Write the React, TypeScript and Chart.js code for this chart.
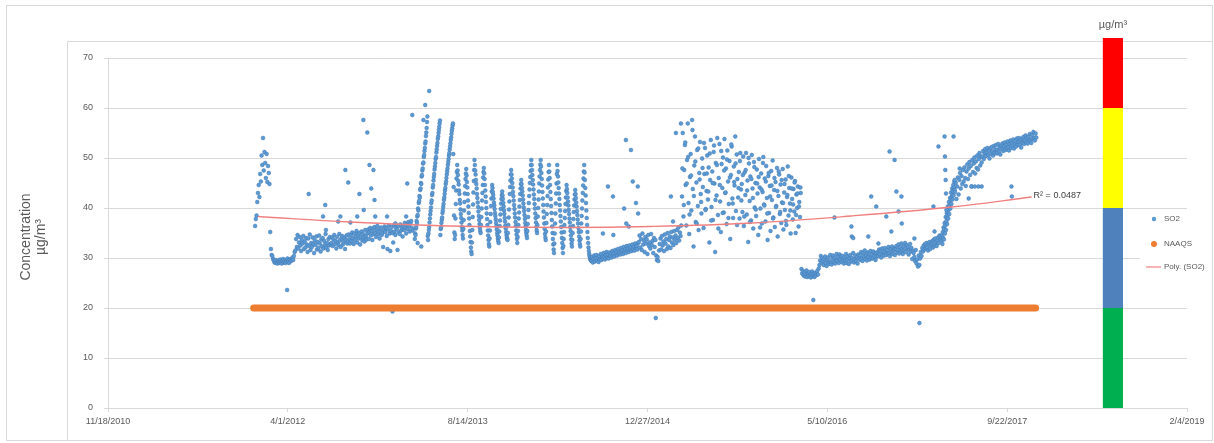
import React, { useEffect, useRef } from "react";
import { Chart, registerables } from "chart.js";

Chart.register(...registerables);

// ---------- axis data ----------
const xTickDates = ["2010-11-18", "2012-04-01", "2013-08-14", "2014-12-27", "2016-05-10", "2017-09-22", "2019-02-04"];
const xTickLabels = ["11/18/2010", "4/1/2012", "8/14/2013", "12/27/2014", "5/10/2016", "9/22/2017", "2/4/2019"];
const yMin = 0;
const yMax = 70;
const yStep = 10;

// ---------- SO2 series (x = days since 1 Jan 2012) ----------
const so2Jan2012 = [36.4, 37.8, 38.5, 41.2, 43.0, 44.6, 42.2, 46.8, 45.3, 50.5, 48.6, 54.0, 47.5, 51.2, 49.0, 46.0, 50.8, 45.2, 48.4, 47.0, 44.8, 35.2, 31.8, 30.6];
const so2Trough2012 = [30.4, 29.8, 29.5, 29.1, 29.6, 29.0, 29.3, 28.9, 29.5, 29.2, 29.0, 29.7, 29.3, 28.9, 29.4, 29.8, 29.1, 29.5, 29.0, 29.6, 29.2, 29.9, 29.4, 29.0, 29.7, 29.3, 29.8, 29.5, 30.1, 29.6, 30.4, 31.2];
const so2Spring2012 = [31.5, 33.8, 32.2, 34.6, 31.9, 33.1, 34.2, 32.5, 31.4, 33.6, 32.9, 34.4, 31.8, 33.3, 32.1, 34.0, 32.7, 31.2, 33.9, 32.4, 34.7, 31.6, 33.0, 32.2, 34.1, 32.8, 31.0, 33.5, 32.6, 34.3, 31.7, 33.2, 32.0, 34.5, 32.9, 31.3, 33.7, 32.3, 34.0, 31.9, 33.4, 32.6, 34.8, 32.1, 33.0, 31.6, 33.8, 32.5, 34.2, 32.8];
const so2Band2012 = [33.0, 34.1, 32.4, 33.7, 34.6, 32.8, 33.4, 31.9, 34.2, 33.1, 32.6, 34.8, 33.5, 32.2, 33.9, 34.4, 32.7, 33.2, 34.0, 31.8, 33.6, 34.5, 32.9, 33.3, 34.7,
  33.8, 32.9, 34.6, 33.4, 35.1, 34.0, 32.8, 34.9, 33.6, 34.3, 35.4, 33.1, 34.7, 33.9, 35.0, 32.7, 34.2, 35.3, 33.5, 34.8, 34.1, 33.3, 35.6, 34.4, 33.7];
const so2Band2013 = [34.9, 35.7, 33.8, 35.2, 36.0, 34.5, 35.4, 33.6, 35.9, 34.8, 36.2, 35.1, 34.2, 35.6, 36.4, 34.7, 35.3, 33.9, 35.8, 36.1, 34.6, 35.0, 32.2, 35.5, 36.3,
  35.2, 36.0, 34.4, 31.8, 35.7, 36.5, 34.9, 31.4, 35.4, 36.2, 35.0, 33.1, 36.6, 35.3, 34.6, 36.1, 35.8, 31.6, 36.4, 35.1, 34.8, 36.7, 35.5, 36.0, 34.3,
  36.3, 35.6, 37.0, 36.1, 34.9, 36.8, 35.8, 37.2, 36.4, 35.3, 36.9, 37.4, 36.0, 35.5];
const so2Ramps2013 = [33.8, 34.9, 34.6, 35.9, 36.2, 37.4, 37.0, 38.3, 38.6, 39.9, 39.5, 41.0, 41.4, 42.4, 42.1, 43.6, 43.9, 45.0, 44.8, 46.3, 46.6, 47.5, 47.9, 48.9, 49.1, 50.2, 50.6, 51.4, 52.0, 52.9, 53.3, 54.4, 55.1, 56.0, 57.2, 58.3,
  34.4,
  33.6, 34.9, 35.6, 36.2, 37.1, 37.9, 38.7, 39.4, 40.1, 41.0, 41.5, 42.6, 43.0, 44.1, 44.6, 45.5, 46.2, 46.8, 47.7, 48.3, 49.0, 49.8, 50.2, 51.1, 51.7, 52.4, 53.0, 53.8, 54.3, 55.0, 55.6, 56.2, 56.9, 57.5,
  34.6, 35.8, 36.1, 37.0, 37.6, 38.1, 39.0, 39.5, 40.2, 40.8, 41.6, 42.1, 42.8, 43.5, 44.0, 44.8, 45.3, 46.0, 46.7, 47.3, 47.9, 48.6, 49.2, 49.8, 50.5, 51.0, 51.7, 52.3, 52.9, 53.6, 54.1, 54.8, 55.4, 55.9, 56.5, 56.9];
const so2Teeth2013 = [50.8, 44.2, 38.5, 35.1, 33.8, 34.6, 37.9, 40.8, 43.5, 45.9, 47.2, 48.6,
  47.5, 46.6, 45.4, 44.7, 43.5, 42.8, 41.6, 40.9, 39.7, 38.8, 38.0, 37.1, 36.2, 35.5, 34.6, 33.9, 35.8, 37.6, 39.5, 41.2, 42.9, 44.4, 45.8, 46.9, 47.8,
  46.5, 45.2, 44.1, 42.8, 41.5, 40.3, 39.0, 37.9, 36.6, 35.4, 34.3, 33.2, 32.1, 31.3, 30.8, 33.1, 35.6, 38.2, 40.7, 43.1, 45.4, 47.6, 49.6,
  48.6, 47.5, 46.7, 45.6, 44.8, 43.9, 42.8, 42.0, 41.1, 40.2, 39.3, 38.4, 37.6, 36.8, 36.0, 35.4, 35.0, 36.6, 38.2, 39.9, 41.5, 43.0, 44.6, 46.1, 47.2, 48.0,
  46.9, 45.8, 44.6, 43.5, 42.3, 41.2, 40.0, 38.9, 37.8, 36.6, 35.5, 34.5, 33.6, 32.8, 32.3, 33.9, 35.5, 37.2, 38.8, 40.4, 41.9, 43.3, 44.6,
  44.0, 43.2, 42.6, 41.9, 41.1, 40.5, 39.8, 39.0, 38.4, 37.7, 37.0, 36.4, 35.7, 35.0, 34.5, 33.9, 33.4, 33.0, 34.1, 35.3, 36.4, 37.5, 38.7, 39.8, 40.9, 41.8, 42.6, 43.3,
  42.5, 41.8, 41.0, 40.3, 39.5, 38.8, 38.0, 37.3, 36.5, 35.9, 35.2, 34.6, 34.1, 33.8, 33.6, 35.0, 36.6, 38.1, 39.7, 41.3, 42.8, 44.2, 45.5, 46.7, 47.6];
const so2Teeth2014 = [46.7, 45.9, 45.0, 44.1, 43.2, 42.4, 41.5, 40.6, 39.8, 38.9, 38.1, 37.2, 36.4, 35.5, 34.7, 33.8, 33.0, 34.2, 35.4, 36.6, 37.9, 39.1, 40.3, 41.6, 42.8, 43.9, 44.8, 45.6,
  44.8, 44.0, 43.3, 42.5, 41.7, 40.9, 40.1, 39.4, 38.6, 37.8, 37.0, 36.3, 35.6, 35.0, 34.5, 34.0, 35.4, 36.8, 38.2, 39.6, 41.0, 42.4, 43.7, 45.0, 46.2, 47.4, 48.6, 49.6,
  48.6, 47.6, 46.6, 45.6, 44.7, 43.7, 42.7, 41.8, 40.8, 39.9, 38.9, 38.0, 37.1, 36.2, 35.5, 35.0, 36.6, 38.3, 40.0, 41.7, 43.3, 44.9, 46.3, 47.6, 48.7, 49.6,
  48.3, 47.0, 45.8, 44.5, 43.2, 41.9, 40.6, 39.3, 38.1, 36.9, 35.8, 34.8, 34.1, 33.6, 35.3, 37.0, 38.8, 40.6, 42.4, 44.1, 45.7, 47.2, 48.6,
  47.3, 46.0, 44.6, 43.2, 41.8, 40.4, 39.0, 37.6, 36.3, 35.0, 33.8, 32.7, 31.7, 31.0, 32.9, 34.9, 36.9, 38.9, 40.9, 42.9, 44.9, 46.8, 48.6,
  47.4, 46.3, 45.1, 44.0, 42.9, 41.8, 40.6, 39.5, 38.4, 37.3, 36.2, 35.1, 34.0, 33.0, 32.0, 31.0, 32.4, 33.8, 35.2, 36.6, 38.0, 39.4, 40.8, 42.1, 43.4, 44.6,
  43.8, 43.0, 42.1, 41.3, 40.5, 39.6, 38.8, 37.9, 37.1, 36.2, 35.4, 34.5, 33.7, 32.9, 32.3, 33.6, 35.0, 36.4, 37.8, 39.2, 40.5, 41.7, 42.7, 43.6,
  42.8, 42.0, 41.1, 40.3, 39.4, 38.6, 37.7, 36.9, 36.0, 35.2, 34.3, 33.5, 32.8, 32.3, 33.8, 35.3, 36.9, 38.4, 39.9, 41.5, 43.0, 44.5, 45.9, 47.3, 48.6,
  47.1, 45.6, 44.0, 42.5, 41.0, 39.5, 38.0, 36.6, 35.2, 34.0, 33.0, 32.1, 31.4, 30.8, 30.4, 30.1, 29.8, 29.6, 29.5];
const so2Summer2014 = [29.4, 30.2, 29.1, 29.8, 30.5, 29.3, 29.9, 30.6, 29.5, 30.1, 29.2, 30.4, 29.7, 30.8, 29.6, 30.3, 29.9, 31.0, 30.2, 29.7, 30.6, 31.2, 30.0, 30.7, 29.9, 31.1, 30.4, 30.9, 30.1, 31.4, 30.6, 31.0, 30.3,
  31.6, 30.8, 31.3, 30.5, 31.8, 30.9, 31.2, 30.7, 32.0, 31.1, 31.5, 30.8, 32.2, 31.3, 31.7, 31.0, 32.4, 31.5, 31.9, 31.2, 32.5, 31.6, 32.1, 31.4, 32.7, 31.8, 32.3, 31.5, 32.9, 32.0, 32.4, 31.7, 33.0];
const so2Winter2015 = [33.2, 34.5, 32.1, 33.8, 31.6, 34.9, 32.7, 33.5, 31.2, 34.2, 32.9, 33.7, 30.8, 34.6, 32.4, 33.1, 31.9, 34.8, 32.6, 33.4, 31.0, 34.0, 32.2, 33.6, 30.5, 29.6, 30.2, 29.4, 31.5, 32.8,
  33.9, 31.7, 34.4, 32.5, 33.3, 31.4, 34.7, 32.9, 33.8, 31.8, 35.0, 32.3, 33.6, 34.3, 32.0, 35.2, 33.1, 34.1, 32.6, 35.4, 33.7, 34.5, 33.0, 35.6, 34.0, 36.1, 33.5, 35.1, 34.4, 36.5];
const so2Cloud2015 = [42.3, 55.0, 38.3, 47.6, 52.6, 44.6, 36.5, 49.6, 56.9, 41.0,
  34.8, 46.2, 50.8, 39.5, 57.6, 43.8, 32.3, 48.5, 54.3, 37.2,
  45.1, 51.6, 40.4, 35.6, 47.0, 53.2, 42.8, 38.9, 49.9, 44.2,
  36.0, 46.8, 52.0, 39.8, 43.4, 50.5, 41.7, 48.1, 33.1, 45.6,
  53.6, 40.2, 47.3, 37.6, 51.2, 44.9, 31.2, 49.0, 42.5, 54.0,
  38.6, 46.0, 52.8, 41.3, 35.2, 48.8, 44.0, 50.1, 39.1, 53.8,
  43.0, 47.9, 36.8, 51.5, 45.3, 40.8, 49.4, 33.8, 46.6, 52.3,
  41.9, 38.0, 48.3, 44.5, 54.3, 39.4, 50.7, 45.8, 42.1, 47.2,
  37.9, 51.0, 43.7];
const so2Cloud2016 = [44.8, 39.2, 50.3, 36.4, 47.1, 42.6, 51.0, 38.7, 45.5, 33.2,
  48.9, 41.4, 46.3, 37.5, 50.6, 43.9, 35.9, 49.2, 40.1, 45.0,
  38.4, 47.7, 42.9, 34.6, 49.8, 44.1, 39.9, 46.9, 36.9, 43.2,
  50.2, 40.7, 45.9, 37.3, 48.4, 42.0, 33.6, 46.4, 39.0, 44.4,
  35.4, 47.4, 41.6, 49.5, 38.1, 43.6, 36.2, 45.2, 40.4, 48.0,
  34.3, 42.4, 46.7, 38.8, 44.7, 37.0, 41.1, 47.8, 35.7, 43.1,
  39.6, 45.7, 36.6, 42.2, 48.3, 38.5, 44.0, 40.9, 34.9, 46.1,
  41.8, 37.7, 43.8, 39.3, 45.4, 35.0, 42.7, 40.0, 44.3, 36.3,
  41.2, 38.2, 43.0];
const so2CloudExtra = [47.9, 40.6, 53.1, 44.9, 50.2, 38.7, 46.5, 55.6, 42.4, 49.3,
  36.9, 51.9, 45.7, 41.2, 48.0, 53.0, 39.6, 46.9, 43.3, 50.9,
  37.5, 45.0, 52.5, 41.6, 48.6, 35.9, 44.6, 51.4, 39.0, 47.5,
  43.1, 49.7, 38.0, 46.1, 52.7, 40.9, 45.2, 48.9, 36.6, 44.0,
  49.4, 41.5, 46.6, 38.3, 47.6, 43.5, 50.0, 37.2, 45.8, 42.0,
  48.2, 39.7, 44.9, 46.2, 36.1, 43.7, 49.0, 40.5, 45.3, 38.9,
  47.0, 42.3, 44.5, 37.9, 46.0, 40.2, 43.4, 47.3, 39.2, 45.6,
  41.0, 44.8, 37.4, 42.6, 46.4, 39.5, 43.9, 40.7, 45.1, 38.6,
  42.9, 40.3, 44.1];
const so2Trough2016 = [27.8, 26.9, 27.4, 26.5, 27.1, 26.3, 26.8, 27.5, 26.2, 26.9, 26.4, 27.2, 26.6, 26.1, 26.8, 27.3, 26.4, 26.9, 26.2, 27.0, 26.5, 26.9, 27.4, 26.7, 27.9, 28.6,
  29.5, 30.4, 29.1, 30.0, 29.4, 28.6, 29.8, 30.3, 29.0, 28.4, 29.6, 30.1, 28.8, 29.3, 30.6, 29.1, 28.7, 29.9, 30.5, 29.2, 30.0, 28.9, 29.6, 30.8, 29.4, 30.2, 29.0, 30.7, 29.7, 30.3];
const so2Band2016 = [29.2, 30.4, 29.8, 28.9, 30.1, 29.5, 30.8, 29.0, 29.7, 30.3, 28.8, 29.9, 30.6, 29.3, 30.0, 29.6, 31.0, 29.1, 29.8, 30.5, 29.4, 30.2, 28.9, 30.7, 29.9,
  30.5, 29.6, 31.2, 30.0, 29.4, 30.9, 30.3, 31.5, 29.8, 30.6, 29.5, 31.1, 30.2, 30.8, 29.7, 31.4, 30.1, 30.7, 29.9, 31.3, 30.4, 31.0, 29.6, 30.9, 30.3,
  31.2, 30.4, 31.7, 30.8, 31.4, 30.1, 31.9, 30.7, 31.3, 30.5, 32.0, 31.1, 30.6, 31.6, 30.9, 32.2, 31.0, 30.4, 31.8, 31.2, 32.3, 30.8, 31.5, 31.9, 30.6];
const so2Band2017 = [31.8, 32.4, 31.1, 31.6, 32.7, 30.9, 32.1, 31.4, 32.9, 31.7, 30.8, 32.3, 31.5, 33.0, 31.2, 32.6, 31.9, 32.2, 30.7, 31.6, 32.8, 31.3, 32.0, 29.8, 31.4,
  31.0, 30.2, 29.4, 31.6, 28.9, 29.7, 28.3, 30.5, 28.6, 29.9, 31.2, 30.4, 32.0, 31.3, 32.5, 31.7, 32.8, 31.9, 33.0, 32.2, 31.5, 32.7, 33.2, 31.8, 32.6,
  32.9, 33.4, 32.1, 33.7, 32.5, 33.9, 33.1, 32.4, 33.6, 34.1, 33.0, 34.5, 33.8, 34.2];
const so2Rise2017 = [33.5, 34.6, 32.8, 35.2, 34.0, 36.1, 33.7, 35.8, 37.0, 34.9, 36.5, 38.2, 35.6, 37.4, 39.0, 36.8, 38.5, 40.3, 37.9, 39.6, 41.2, 38.8, 40.5, 42.0, 39.9, 41.6, 43.1, 40.8, 42.4, 43.9, 41.7, 43.3, 44.6, 42.5, 44.1, 45.3, 43.6];
const so2Step2017 = [43.2, 45.0, 41.8, 44.3, 46.1, 42.7, 45.6, 47.0, 43.9, 46.4, 44.8, 47.6, 45.3, 48.1, 46.0, 44.4, 47.3, 48.7, 45.8, 47.9, 49.2, 46.6, 48.4, 44.3, 49.6, 47.2, 48.9, 50.1, 46.9, 49.3, 48.0, 50.5, 47.7, 49.8, 51.0, 48.5, 50.3, 49.1];
const so2Late2017 = [50.2, 51.4, 49.8, 50.9, 51.8, 50.4, 51.1, 52.0, 50.6, 51.5,
  49.9, 51.9, 50.8, 52.2, 51.3, 50.5, 52.4, 51.0, 51.7, 52.6,
  50.9, 51.6, 52.8, 51.2, 52.1, 50.7, 52.5, 51.8, 52.9, 51.4,
  52.3, 53.1, 51.6, 52.7, 51.9, 53.3, 52.2, 51.5, 52.8, 53.5,
  52.0, 53.0, 52.5, 53.7, 51.9, 52.9, 53.4, 52.3, 53.9, 52.7,
  53.2, 54.0, 52.6, 53.5, 52.1, 53.8, 53.0, 54.2, 52.8, 53.6,
  54.5, 53.1, 53.9, 52.9, 54.3, 53.4, 54.8, 53.7, 53.0, 54.6,
  53.8, 55.2, 54.0, 53.5, 54.9, 54.1];

// [first day, day step, values]
const so2Segments: [number, number, number[]][] = [
  [0, 2, so2Jan2012], [48, 2, so2Trough2012], [112, 2, so2Spring2012], [212, 2, so2Band2012], [312, 2, so2Band2013],
  [444, 1, so2Ramps2013], [551, 1, so2Teeth2013], [713, 1, so2Teeth2014], [935, 2, so2Summer2014], [1067, 2, so2Winter2015],
  [1187, 2, so2Cloud2015], [1353, 2, so2Cloud2016], [1188, 4, so2CloudExtra], [1519, 2, so2Trough2016], [1631, 2, so2Band2016], [1781, 2, so2Band2017],
  [1909, 1, so2Rise2017], [1946, 2, so2Step2017], [2022, 2, so2Late2017],
];

const so2OutlierDays = [89, 149, 189, 195, 197, 231, 237, 251, 259, 265, 284, 290, 301, 302, 312, 318, 323, 329, 332, 334, 367, 382, 390, 420, 423, 437,
  468, 473, 484, 452, 462,
  967, 981, 995, 996, 1026, 1031, 1032, 1039, 1045, 1050, 1059, 1064, 1065, 1114, 1156, 1162, 1170, 1184,
  1552, 1611, 1658, 1659, 1663, 1705, 1713, 1727, 1733, 1755, 1764, 1769, 1778, 1783, 1789, 1797, 1798, 1833, 1847, 1886, 1889, 1900,
  1917, 1918, 1919, 1920, 1921, 1922, 1942, 1945, 1959, 1984, 1992, 2001, 2011, 2020, 2103, 2104];
const so2OutlierValues = [23.6, 42.8, 38.3, 40.6, 35.6, 37.3, 38.3, 47.6, 45.1, 37.1, 38.3, 42.8, 57.6, 39.6, 55.1, 48.6, 43.9, 47.6, 41.6, 38.3, 38.3, 19.3, 36.9, 38.3, 44.9, 58.6,
  57.6, 60.6, 63.4, 33.0, 32.3,
  34.9, 44.3, 42.3, 34.6, 39.9, 53.6, 36.9, 36.3, 51.6, 45.3, 41.0, 44.3, 38.9, 18.0, 42.3, 37.3, 55.0, 56.9,
  21.6, 38.1, 36.3, 34.3, 34.0, 34.3, 42.3, 40.3, 32.9, 38.3, 51.3, 35.3, 49.6, 43.3, 39.3, 42.3, 36.9, 33.9, 17.0, 40.3, 35.3, 52.3,
  54.3, 50.3, 47.6, 45.6, 42.9, 39.6, 54.3, 45.6, 47.9, 41.9, 44.3, 44.3, 44.3, 44.3, 44.3, 42.3];

// NAAQS standard and polynomial trend
const naaqsDays = [-4, 2170];
const naaqsValues = [20, 20];
const trendDays = [8, 265, 543, 850, 1100, 1379, 1657, 1936, 2159];
const trendValues = [38.3, 37.2, 36.4, 36.1, 36.3, 37.0, 38.4, 40.2, 42.2];
const trendLabel = "R² = 0.0487";

// colour scale bar (µg/m³)
const colorBandLow = [0, 20, 40, 60];
const colorBandHigh = [20, 40, 60, 74];
const colorBandColors = ["#00b050", "#4f81bd", "#ffff00", "#ff0000"];
const colorBarDates = ["2018-06-15", "2018-08-10"];

const legendLabels = ["SO2", "NAAQS", "Poly. (SO2)"];

// ---------- helpers ----------
const DAY_MS = 86400000;
const EPOCH = Date.UTC(2012, 0, 1);
const dayToMs = (d: number) => EPOCH + d * DAY_MS;

const FONT = "'Liberation Sans', Arial, sans-serif";
const TEXT = "#595959";
const GRID = "#d9d9d9";
const SO2_COLOR = "#5b9bd5";
const NAAQS_COLOR = "#ed7d31";
const TREND_COLOR = "#f08080";

function buildSo2() {
  const pts: { x: number; y: number }[] = [];
  so2Segments.forEach(([start, step, vals]) => {
    vals.forEach((v, i) => pts.push({ x: dayToMs(start + i * step), y: v }));
  });
  so2OutlierDays.forEach((d, i) => pts.push({ x: dayToMs(d), y: so2OutlierValues[i] }));
  return pts;
}

const decorPlugin = {
  id: "decor",
  beforeDraw(chart: any) {
    const { ctx, width, height } = chart;
    ctx.save();
    ctx.fillStyle = "#ffffff";
    ctx.fillRect(0, 0, width, height);
    ctx.strokeStyle = GRID;
    ctx.lineWidth = 1;
    ctx.strokeRect(6.5, 5.5, width - 8, height - 8);
    ctx.beginPath();
    ctx.moveTo(67.5, height - 2);
    ctx.lineTo(67.5, 41.5);
    ctx.lineTo(width - 2, 41.5);
    ctx.stroke();
    // y axis title
    ctx.fillStyle = TEXT;
    ctx.font = `14px ${FONT}`;
    ctx.textAlign = "center";
    ctx.textBaseline = "middle";
    ctx.translate(26, 237);
    ctx.rotate(-Math.PI / 2);
    ctx.fillText("Concentration", 0, 0);
    ctx.fillText("µg/m³", 0, 15);
    ctx.restore();
  },
  afterDraw(chart: any) {
    const { ctx } = chart;
    const xs = chart.scales.x;
    const ys = chart.scales.y;
    ctx.save();
    // colour bar
    const left = xs.getPixelForValue(Date.parse(colorBarDates[0]));
    const right = xs.getPixelForValue(Date.parse(colorBarDates[1]));
    colorBandLow.forEach((lo, i) => {
      const top = ys.getPixelForValue(colorBandHigh[i]);
      const bot = ys.getPixelForValue(lo);
      ctx.fillStyle = colorBandColors[i];
      ctx.fillRect(left, top, right - left, bot - top);
    });
    ctx.fillStyle = TEXT;
    ctx.font = `11px ${FONT}`;
    ctx.textAlign = "center";
    ctx.textBaseline = "middle";
    ctx.fillText("µg/m³", (left + right) / 2, 25);

    // R² label at trend end
    const tx = xs.getPixelForValue(dayToMs(trendDays[trendDays.length - 1]));
    const ty = ys.getPixelForValue(trendValues[trendValues.length - 1]);
    ctx.font = `9px ${FONT}`;
    ctx.textAlign = "left";
    ctx.fillStyle = "#404040";
    ctx.fillText(trendLabel, tx + 2, ty - 1);

    // legend
    ctx.fillStyle = "#ffffff";
    ctx.fillRect(1140, 211, 52, 64);
    const ly = [219, 244, 267];
    ctx.fillStyle = SO2_COLOR;
    ctx.beginPath();
    ctx.arc(1154, ly[0], 2.2, 0, Math.PI * 2);
    ctx.fill();
    ctx.fillStyle = NAAQS_COLOR;
    ctx.beginPath();
    ctx.arc(1154, ly[1], 3, 0, Math.PI * 2);
    ctx.fill();
    ctx.strokeStyle = TREND_COLOR;
    ctx.lineWidth = 1.2;
    ctx.beginPath();
    ctx.moveTo(1146, ly[2]);
    ctx.lineTo(1161, ly[2]);
    ctx.stroke();
    ctx.fillStyle = TEXT;
    ctx.font = `8px ${FONT}`;
    legendLabels.forEach((t, i) => ctx.fillText(t, 1164, ly[i]));
    ctx.restore();
  },
};

export default function App() {
  const canvasRef = useRef<HTMLCanvasElement | null>(null);

  useEffect(() => {
    const prev = document.body.style.margin;
    document.body.style.margin = "0";
    const canvas = canvasRef.current;
    if (!canvas) return;

    const chart = new Chart(canvas, {
      type: "scatter",
      data: {
        datasets: [
          {
            label: legendLabels[2],
            data: trendDays.map((d, i) => ({ x: dayToMs(d), y: trendValues[i] })),
            showLine: true,
            borderColor: TREND_COLOR,
            borderWidth: 1.3,
            pointRadius: 0,
            tension: 0.4,
            order: 0,
          } as any,
          {
            label: legendLabels[1],
            data: naaqsDays.map((d, i) => ({ x: dayToMs(d), y: naaqsValues[i] })),
            showLine: true,
            borderColor: NAAQS_COLOR,
            borderWidth: 7,
            borderCapStyle: "round",
            pointRadius: 0,
            order: 1,
          } as any,
          {
            label: legendLabels[0],
            data: buildSo2(),
            showLine: false,
            pointRadius: 1.9,
            pointBackgroundColor: SO2_COLOR,
            pointBorderColor: "#4277b0",
            pointBorderWidth: 0.5,
            order: 2,
          } as any,
        ],
      },
      options: {
        responsive: false,
        devicePixelRatio: 1,
        animation: false,
        events: [],
        layout: { padding: { top: 58, right: 27, left: 0, bottom: 0 } },
        plugins: { legend: { display: false }, tooltip: { enabled: false } },
        scales: {
          x: {
            type: "linear",
            min: Date.parse(xTickDates[0]),
            max: Date.parse(xTickDates[xTickDates.length - 1]),
            afterBuildTicks: (s: any) => {
              s.ticks = xTickDates.map((d) => ({ value: Date.parse(d) }));
            },
            afterFit: (s: any) => {
              s.height = 35;
            },
            ticks: {
              autoSkip: false,
              maxRotation: 0,
              minRotation: 0,
              padding: 4,
              color: TEXT,
              font: { size: 9, family: FONT },
              callback: (_v: any, i: number) => xTickLabels[i],
            },
            grid: { drawOnChartArea: false, drawTicks: true, tickLength: 4, color: GRID },
            border: { color: GRID },
          },
          y: {
            min: yMin,
            max: yMax,
            afterFit: (s: any) => {
              s.width = 108;
            },
            ticks: { stepSize: yStep, padding: 11, color: TEXT, font: { size: 9, family: FONT } },
            grid: { color: GRID, tickLength: 4 },
            border: { color: GRID },
          },
        },
      } as any,
      plugins: [decorPlugin],
    });

    return () => {
      chart.destroy();
      document.body.style.margin = prev;
    };
  }, []);

  return (
    <div style={{ position: "relative", width: 1214, height: 443 }}>
      <canvas ref={canvasRef} width={1214} height={443} style={{ display: "block", width: 1214, height: 443 }} />
    </div>
  );
}
